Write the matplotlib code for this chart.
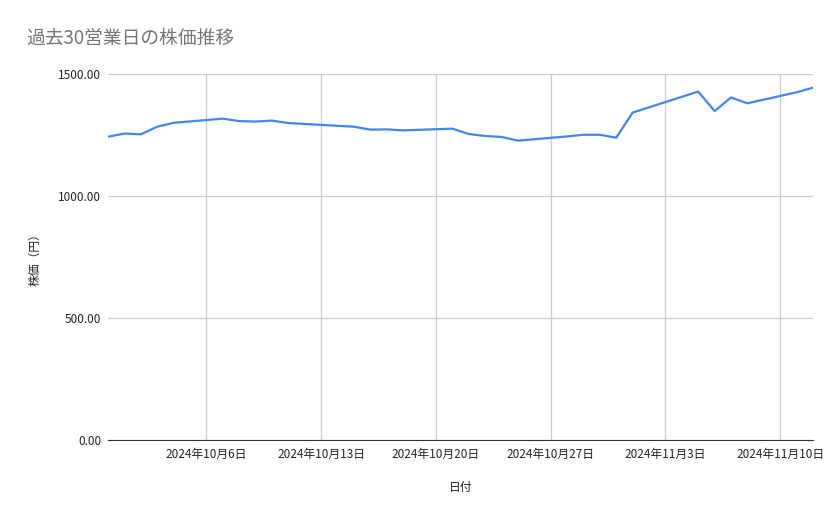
import matplotlib.pyplot as plt
import matplotlib.dates as mdates
import pandas as pd

plt.rcParams['font.family'] = ['Noto Sans CJK JP', 'DejaVu Sans']

dates = ['2024-09-30', '2024-10-01', '2024-10-02', '2024-10-03', '2024-10-04',
         '2024-10-07', '2024-10-08', '2024-10-09', '2024-10-10', '2024-10-11',
         '2024-10-15', '2024-10-16', '2024-10-17', '2024-10-18',
         '2024-10-21', '2024-10-22', '2024-10-23', '2024-10-24', '2024-10-25',
         '2024-10-28', '2024-10-29', '2024-10-30', '2024-10-31', '2024-11-01',
         '2024-11-05', '2024-11-06', '2024-11-07', '2024-11-08',
         '2024-11-11', '2024-11-12']
prices = [1243, 1256, 1253, 1284, 1300,
          1317, 1307, 1305, 1309, 1299,
          1284, 1272, 1273, 1269,
          1276, 1254, 1246, 1242, 1227,
          1244, 1251, 1251, 1239, 1342,
          1428, 1348, 1404, 1380,
          1425, 1444]
tick_dates = ['2024-10-06', '2024-10-13', '2024-10-20', '2024-10-27', '2024-11-03', '2024-11-10']
y_ticks = [0, 500, 1000, 1500]

x = pd.to_datetime(dates)

fig = plt.figure(figsize=(8.39, 5.19), dpi=100)
ax = fig.add_axes([108 / 839, 1 - 440 / 519, (813 - 108) / 839, (440 - 74) / 519])

ax.plot(x, prices, color='#4285F4', linewidth=1.6)

ax.set_xlim(x[0], x[-1])
ax.set_ylim(0, 1500)
ax.set_yticks(y_ticks)
ax.set_yticklabels(['%.2f' % v for v in y_ticks])
ax.set_xticks(pd.to_datetime(tick_dates))
ax.xaxis.set_major_formatter(plt.FuncFormatter(
    lambda v, p: '{0.year}年{0.month}月{0.day}日'.format(mdates.num2date(v))))

ax.grid(True, color='#cccccc', linewidth=0.9)
ax.set_axisbelow(True)
for s in ['top', 'right', 'left']:
    ax.spines[s].set_visible(False)
ax.spines['bottom'].set_color('#333333')
ax.spines['bottom'].set_zorder(3)
ax.tick_params(length=0, labelsize=8.5, colors='#222222')
ax.tick_params(axis='x', pad=6)
ax.tick_params(axis='y', pad=5)

ax.set_xlabel('日付', fontsize=8.5, color='#222222', labelpad=14)
ax.set_ylabel('株価（円）', fontsize=8.5, color='#222222', labelpad=12)

fig.text(26 / 839, 1 - 38 / 519, '過去30営業日の株価推移', fontsize=13.5,
         color='#757575', va='center', ha='left')

fig.savefig('out.png', dpi=100)
